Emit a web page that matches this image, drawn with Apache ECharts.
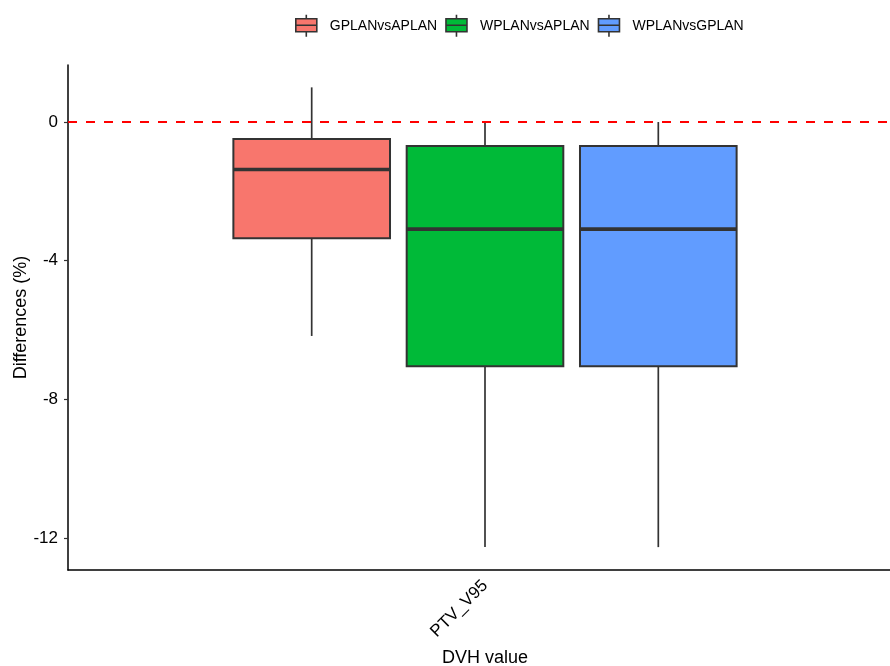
<!DOCTYPE html>
<html>
<head>
<meta charset="utf-8">
<title>DVH differences</title>
<script src="https://cdn.jsdelivr.net/npm/echarts@6/dist/echarts.min.js"></script>
<style>
  html, body { margin: 0; padding: 0; background: #fff; }
  #chart { width: 890px; height: 666px; }
</style>
</head>
<body>
<div id="chart"></div>
<script>
// Category on the x axis
const categories = ['PTV_V95'];

// Comparison groups (one box each) and their fills
const groups = ['GPLANvsAPLAN', 'WPLANvsAPLAN', 'WPLANvsGPLAN'];
const groupColors = ['#F8766D', '#00BA38', '#619CFF'];

// Box statistics per group: [lower whisker, Q1, median, Q3, upper whisker]
const gplanVsAplan = [-6.17, -3.35, -1.37, -0.49, 1.00];
const wplanVsAplan = [-12.26, -7.04, -3.09, -0.69, 0.00];
const wplanVsGplan = [-12.26, -7.04, -3.09, -0.69, 0.00];

// Y axis ticks and reference line
const yTicks = [-12, -8, -4, 0];
const referenceLine = 0;

const boxStats = [gplanVsAplan, wplanVsAplan, wplanVsGplan];

const FONT = '"Liberation Sans", Arial, Helvetica, sans-serif';
const INK = '#333333';

// Dodge layout as fractions of the category band
const DODGE = 0.2078;
const HALF_WIDTH = 0.0939;

function makeBoxRenderer(groupIndex) {
  return function (params, api) {
    const band = api.size([1, 0])[0];
    const center = api.coord([api.value(0), 0])[0] + (groupIndex - 1) * band * DODGE;
    const half = band * HALF_WIDTH;
    const yLow = api.coord([0, api.value(1)])[1];
    const yQ1 = api.coord([0, api.value(2)])[1];
    const yMed = api.coord([0, api.value(3)])[1];
    const yQ3 = api.coord([0, api.value(4)])[1];
    const yHigh = api.coord([0, api.value(5)])[1];
    const fill = groupColors[groupIndex];
    return {
      type: 'group',
      children: [
        { type: 'line', shape: { x1: center, y1: yHigh, x2: center, y2: yQ3 },
          style: { stroke: INK, lineWidth: 1.7 } },
        { type: 'line', shape: { x1: center, y1: yQ1, x2: center, y2: yLow },
          style: { stroke: INK, lineWidth: 1.7 } },
        { type: 'rect', shape: { x: center - half, y: yQ3, width: half * 2, height: yQ1 - yQ3 },
          style: { fill: fill, stroke: INK, lineWidth: 2 } },
        { type: 'line', shape: { x1: center - half, y1: yMed, x2: center + half, y2: yMed },
          style: { stroke: INK, lineWidth: 3.6 } }
      ]
    };
  };
}

// Legend key: box with median line and whisker stubs
const keyIcon = 'path://M10.5 0 L10.5 4 M0 4 L21 4 L21 17 L0 17 Z M0 10.5 L21 10.5 M10.5 17 L10.5 22';

const series = groups.map(function (name, i) {
  const s = {
    name: name,
    type: 'custom',
    renderItem: makeBoxRenderer(i),
    itemStyle: { color: groupColors[i] },
    encode: { x: 0, y: [1, 2, 3, 4, 5] },
    data: [[0].concat(boxStats[i])],
    z: 2
  };
  if (i === 0) {
    s.markLine = {
      silent: true,
      symbol: ['none', 'none'],
      label: { show: false },
      lineStyle: { color: '#FF0000', type: [9, 9], width: 2, opacity: 1 },
      emphasis: { disabled: true },
      data: [{ yAxis: referenceLine }],
      z: 5
    };
  }
  return s;
});

const chart = echarts.init(document.getElementById('chart'), null, { renderer: 'canvas' });
chart.setOption({
  animation: false,
  backgroundColor: '#ffffff',
  textStyle: { fontFamily: FONT },
  legend: {
    top: 14,
    left: 295,
    padding: 0,
    itemWidth: 21,
    itemHeight: 22,
    itemGap: 8,
    selectedMode: false,
    itemStyle: { borderColor: INK, borderWidth: 1.6 },
    textStyle: { fontFamily: FONT, fontSize: 14, color: '#000', padding: [0, 0, 0, 8] },
    data: groups.map(function (g) { return { name: g, icon: keyIcon }; })
  },
  grid: { left: 68, right: -12, top: 65, bottom: 96, containLabel: false, outerBoundsMode: 'none' },
  xAxis: {
    type: 'category',
    data: categories,
    name: 'DVH value',
    nameLocation: 'middle',
    nameGap: 79,
    nameTextStyle: { fontFamily: FONT, fontSize: 18, color: '#000' },
    axisLine: { onZero: false, lineStyle: { color: '#000', width: 1.5 } },
    axisTick: { alignWithLabel: true, length: 4, lineStyle: { color: INK, width: 1.2 } },
    axisLabel: { rotate: 45, fontFamily: FONT, fontSize: 17, color: '#000', margin: 13 },
    splitLine: { show: false }
  },
  yAxis: {
    type: 'value',
    min: -12.92,
    max: 1.645,
    name: 'Differences (%)',
    nameLocation: 'middle',
    nameGap: 38,
    nameMoveOverlap: false,
    nameTextStyle: { fontFamily: FONT, fontSize: 18, color: '#000' },
    axisLine: { show: true, lineStyle: { color: '#000', width: 1.5 } },
    axisTick: { show: true, length: 4, customValues: yTicks, lineStyle: { color: INK, width: 1.2 } },
    axisLabel: { fontFamily: FONT, fontSize: 17, color: '#000', margin: 10, customValues: yTicks },
    splitLine: { show: false }
  },
  series: series
});
</script>
</body>
</html>
